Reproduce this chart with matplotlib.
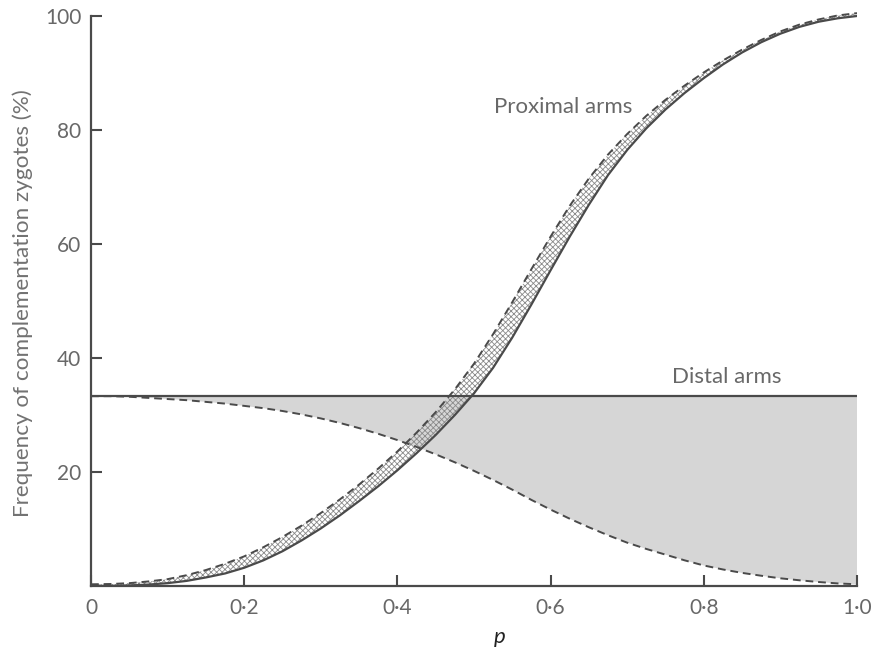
import matplotlib
matplotlib.use("Agg")
import matplotlib.pyplot as plt

plt.rcParams['font.family'] = ['Lato', 'DejaVu Sans']
plt.rcParams['hatch.linewidth'] = 0.6

# ---- data ----
p = [0.0, 0.025, 0.05, 0.075, 0.1, 0.125, 0.15, 0.175, 0.2, 0.225, 0.25,
     0.275, 0.3, 0.325, 0.35, 0.375, 0.4, 0.425, 0.45, 0.475, 0.5,
     0.525, 0.55, 0.575, 0.6, 0.625, 0.65, 0.675, 0.7, 0.725, 0.75,
     0.775, 0.8, 0.825, 0.85, 0.875, 0.9, 0.925, 0.95, 0.975, 1.0]
proximal_solid = [0.0, 0.02, 0.1, 0.25, 0.5, 0.9, 1.5, 2.2, 3.2, 4.5, 6.1,
                  8.0, 10.1, 12.4, 14.9, 17.5, 20.3, 23.3, 26.5, 30.0, 33.8,
                  38.3, 43.6, 49.4, 55.4, 61.3, 66.9, 72.1, 76.5, 80.3, 83.6,
                  86.5, 89.1, 91.5, 93.6, 95.4, 96.9, 98.1, 99.0, 99.6, 100.0]
proximal_dashed = [0.3, 0.35, 0.5, 0.8, 1.2, 1.9, 2.8, 3.9, 5.2, 6.8, 8.6,
                   10.6, 12.8, 15.2, 17.8, 20.6, 23.6, 26.9, 30.5, 34.5, 39.0,
                   44.2, 49.8, 55.6, 61.3, 66.7, 71.5, 75.7, 79.3, 82.5, 85.3,
                   87.8, 90.1, 92.2, 94.1, 95.8, 97.3, 98.5, 99.4, 100.1, 100.5]
distal_solid = [33.3] * len(p)
distal_dashed = [33.3, 33.3, 33.2, 33.0, 32.8, 32.6, 32.3, 32.0, 31.6, 31.2, 30.7,
                 30.1, 29.4, 28.6, 27.7, 26.7, 25.6, 24.4, 23.1, 21.7, 20.2,
                 18.6, 16.9, 15.1, 13.4, 11.8, 10.3, 8.9, 7.6, 6.5, 5.5,
                 4.5, 3.6, 2.9, 2.3, 1.8, 1.35, 1.0, 0.7, 0.45, 0.3]

x_ticks = [0, 0.2, 0.4, 0.6, 0.8, 1.0]
x_tick_labels = ['0', '0·2', '0·4', '0·6', '0·8', '1·0']
y_ticks = [20, 40, 60, 80, 100]
y_tick_labels = ['20', '40', '60', '80', '100']

line_c = '#4a4a4a'
text_c = '#686868'

fig = plt.figure(figsize=(8.72, 6.48), dpi=100)
ax = fig.add_axes([91/872, 1-586/648, 766/872, 581.4/648])

# distal shaded region
ax.fill_between(p, distal_dashed, distal_solid, facecolor='#d6d6d6',
                edgecolor='none', zorder=1)
# proximal cross-hatched band
ax.fill_between(p, proximal_solid, proximal_dashed, facecolor='none',
                edgecolor='#8a8a8a', hatch='xxxxxx', linewidth=0, zorder=2)

ax.plot(p, distal_solid, color=line_c, lw=1.6, zorder=3)
ax.plot(p, distal_dashed, color=line_c, lw=1.4, ls=(0, (4, 2.5)), zorder=3)
ax.plot(p, proximal_solid, color=line_c, lw=1.6, zorder=3)
ax.plot(p, proximal_dashed, color=line_c, lw=1.4, ls=(0, (4, 2.5)), zorder=3)

ax.set_xlim(0, 1.0)
ax.set_ylim(0, 102)
for s in ['top', 'right']:
    ax.spines[s].set_visible(False)
for s in ['left', 'bottom']:
    ax.spines[s].set_color(line_c)
    ax.spines[s].set_linewidth(1.6)
ax.spines['left'].set_bounds(0, 100)

ax.set_xticks(x_ticks)
ax.set_xticklabels(x_tick_labels)
ax.set_yticks(y_ticks)
ax.set_yticklabels(y_tick_labels)
ax.tick_params(direction='in', length=8, width=1.5, color=line_c,
               labelcolor=text_c, labelsize=15)
ax.tick_params(axis='x', pad=9)
ax.tick_params(axis='y', pad=7)

ax.set_ylabel('Frequency of complementation zygotes (%)', fontsize=16.2,
              color='#727272')
ax.yaxis.set_label_coords((33-91)/766, (586-303)/581.4)
fig.text(500/872, 1-637/648, 'p', fontsize=16, style='italic',
         color='#222222', ha='center', va='center')

ax.text(0.526, 84, 'Proximal arms', fontsize=16, color=text_c,
        ha='left', va='center')
ax.text(0.758, 36.6, 'Distal arms', fontsize=16, color=text_c,
        ha='left', va='center')

fig.savefig('out.png', dpi=100)
